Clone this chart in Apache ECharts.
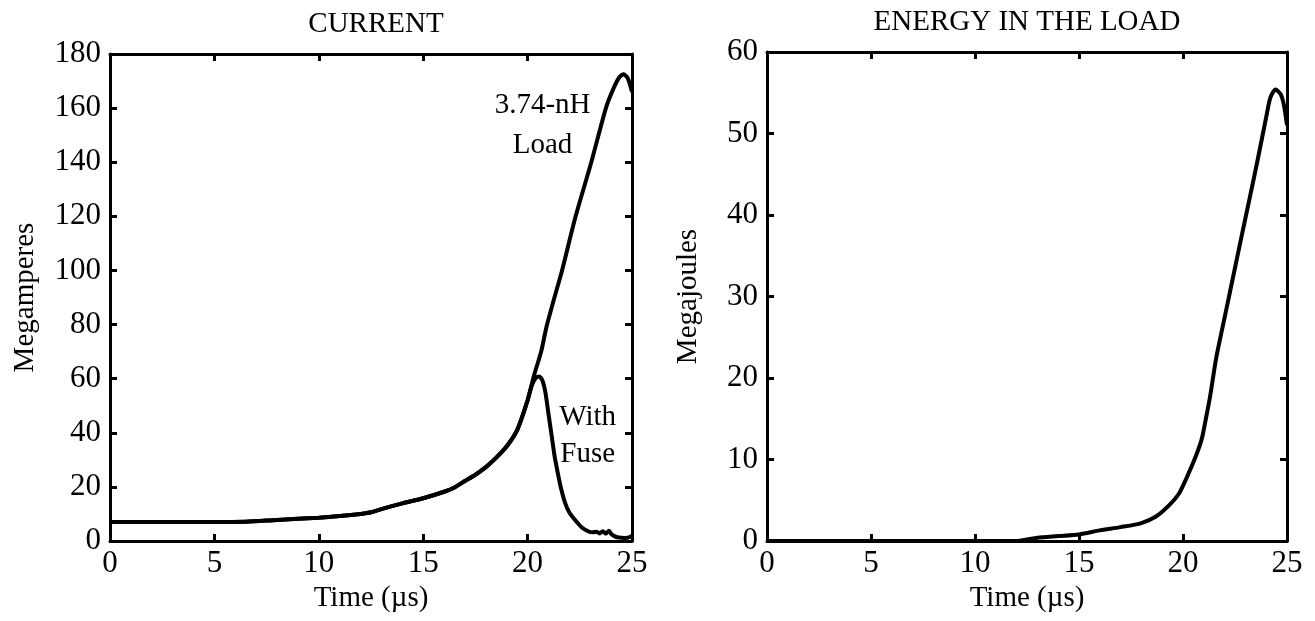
<!DOCTYPE html>
<html>
<head>
<meta charset="utf-8">
<title>Current and energy in the load</title>
<script src="https://cdn.jsdelivr.net/npm/echarts@6/dist/echarts.min.js"></script>
<style>
  html, body { margin: 0; padding: 0; background: #fff; }
  #chart { width: 1315px; height: 621px; }
</style>
</head>
<body>
<div id="chart"></div>
<script>
// current in the 3.74-nH load (MA) vs time (us)
const loadTime = [0, 2, 4, 6.5, 8, 10, 11, 12, 12.5, 13, 14, 15, 16, 16.5, 17, 17.5, 18, 18.5, 19, 19.5, 20,
  20.3, 20.65, 20.9, 21.25, 21.65, 22.3, 23.05, 23.75, 24.1, 24.4, 24.6, 24.8, 25]
const loadCurrent = [7, 7, 7, 7.1, 7.8, 8.6, 9.2, 10, 10.6, 11.8, 13.9, 15.8, 18.2, 19.8, 22.2, 24.5, 27.3, 30.8, 35, 41, 52,
  61, 70, 79, 89, 100, 120, 140, 160, 167, 171.5, 172.5, 171, 166]

// current with the fuse, after it leaves the load curve
const fuseTime = [20, 20.2, 20.4, 20.55, 20.7, 20.85, 21, 21.15, 21.3, 21.45, 21.6, 21.8, 22, 22.27, 22.6, 22.9,
  23.1, 23.3, 23.45, 23.6, 23.75, 23.9, 24, 24.15, 24.3, 24.5, 24.7, 24.85, 25]
const fuseCurrent = [52, 57.5, 60.3, 60.8, 59.5, 55, 47, 39, 31, 25, 19.5, 14, 10.5, 7.8, 5, 3.6,
  3.2, 3.4, 2.8, 3.6, 2.7, 3.8, 2.6, 1.8, 1.4, 1.2, 1.1, 1.3, 2]

// energy in the load (MJ)
const energyTime = [0, 5, 10, 12, 12.5, 13, 14, 15, 16, 17, 18, 18.7, 19.3, 19.8, 20.2, 20.6, 20.9, 21.1, 21.3,
  21.6, 22, 22.4, 22.8, 23.2, 23.6, 24, 24.2, 24.45, 24.7, 24.85, 25]
const energy = [0, 0, 0, 0, 0.2, 0.4, 0.6, 0.8, 1.3, 1.7, 2.2, 3, 4.3, 5.8, 7.9, 10.3, 12.5, 15, 17.7,
  22.5, 27.4, 32.3, 37.2, 42, 46.9, 52, 54.4, 55.4, 54.8, 53.5, 51]

const timeTicks = [0, 5, 10, 15, 20, 25]
const currentMax = 180
const energyMax = 60

const FONT = '"Liberation Serif", "Times New Roman", serif'

function pairs(xs, ys) {
  return xs.map((x, i) => [x, ys[i]])
}

// fuse curve starts from the shared part of the load curve
const fuseData = pairs(loadTime.filter(t => t < 20), loadCurrent.slice(0, loadTime.indexOf(20)))
  .concat(pairs(fuseTime, fuseCurrent))

const chart = echarts.init(document.getElementById('chart'))

function frameX(gridIndex, bottom) {
  return {
    type: 'value',
    gridIndex: gridIndex,
    position: bottom ? 'bottom' : 'top',
    min: timeTicks[0],
    max: timeTicks[timeTicks.length - 1],
    interval: 5,
    name: bottom ? 'Time (µs)' : '',
    nameLocation: 'middle',
    nameGap: 40,
    nameTextStyle: { fontFamily: FONT, fontSize: 29, color: '#000' },
    axisLine: { show: true, onZero: false, lineStyle: { color: '#000', width: 3 } },
    axisTick: { show: true, inside: true, length: 7, lineStyle: { color: '#000', width: 3 } },
    axisLabel: { show: bottom, fontFamily: FONT, fontSize: 31, color: '#000', margin: 7 },
    splitLine: { show: false }
  }
}

function frameY(gridIndex, left, max, step, name, gap) {
  return {
    type: 'value',
    gridIndex: gridIndex,
    position: left ? 'left' : 'right',
    min: 0,
    max: max,
    interval: step,
    name: left ? name : '',
    nameLocation: 'middle',
    nameGap: gap,
    nameTextStyle: { fontFamily: FONT, fontSize: 29, color: '#000' },
    axisLine: { show: true, onZero: false, lineStyle: { color: '#000', width: 3 } },
    axisTick: { show: true, inside: true, length: 7, lineStyle: { color: '#000', width: 3 } },
    axisLabel: { show: left, fontFamily: FONT, fontSize: 31, color: '#000', margin: 9 },
    splitLine: { show: false }
  }
}

const lineStyle = { color: '#000', width: 4 }

function textMark(xAxisIndex, yAxisIndex, points) {
  return {
    type: 'scatter',
    xAxisIndex: xAxisIndex,
    yAxisIndex: yAxisIndex,
    symbolSize: 1,
    silent: true,
    itemStyle: { color: 'rgba(0,0,0,0)' },
    data: points.map(p => ({ name: p[0], value: [p[1], p[2]] })),
    label: {
      show: true,
      position: [0, 0],
      align: 'center',
      verticalAlign: 'middle',
      formatter: '{b}',
      fontFamily: FONT,
      fontSize: 29,
      color: '#000',
      opacity: 1
    }
  }
}

chart.setOption({
  animation: false,
  backgroundColor: '#fff',
  title: [
    { text: 'CURRENT', left: 371, top: 5, textAlign: 'center',
      textStyle: { fontFamily: FONT, fontSize: 29, fontWeight: 'normal', color: '#000' } },
    { text: 'ENERGY IN THE LOAD', left: 1022, top: 3, textAlign: 'center',
      textStyle: { fontFamily: FONT, fontSize: 29, fontWeight: 'normal', color: '#000' } }
  ],
  grid: [
    { left: 110, right: 683, top: 54, bottom: 80 },
    { left: 767, right: 28, top: 52, bottom: 80 }
  ],
  xAxis: [frameX(0, true), frameX(0, false), frameX(1, true), frameX(1, false)],
  yAxis: [
    frameY(0, true, currentMax, 20, 'Megamperes', 70),
    frameY(0, false, currentMax, 20, '', 0),
    frameY(1, true, energyMax, 10, 'Megajoules', 64),
    frameY(1, false, energyMax, 10, '', 0)
  ],
  series: [
    {
      name: '3.74-nH Load',
      type: 'line',
      xAxisIndex: 0,
      yAxisIndex: 0,
      data: pairs(loadTime, loadCurrent),
      showSymbol: false,
      smooth: 0.25,
      lineStyle: lineStyle
    },
    {
      name: 'With Fuse',
      type: 'line',
      xAxisIndex: 0,
      yAxisIndex: 0,
      data: fuseData,
      showSymbol: false,
      smooth: 0.25,
      lineStyle: lineStyle
    },
    {
      name: 'Energy',
      type: 'line',
      xAxisIndex: 2,
      yAxisIndex: 2,
      data: pairs(energyTime, energy),
      showSymbol: false,
      smooth: 0.25,
      lineStyle: lineStyle
    },
    textMark(0, 0, [
      ['3.74-nH', 20.74, 161],
      ['Load', 20.74, 146],
      ['With', 22.9, 45.5],
      ['Fuse', 22.9, 32]
    ])
  ]
})
</script>
</body>
</html>
